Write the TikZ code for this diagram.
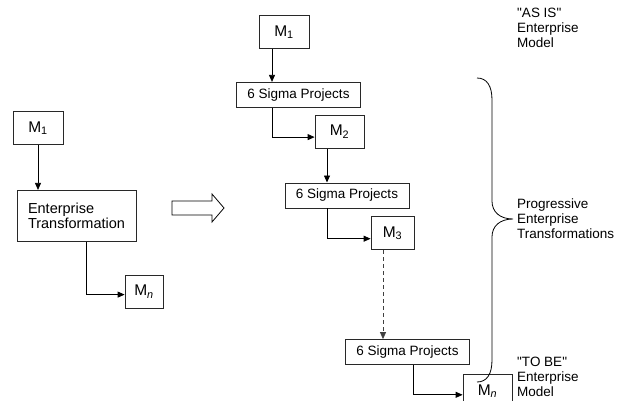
\documentclass[tikz,border=0pt]{standalone}
\usepackage{fontspec}
\setmainfont{Liberation Sans}[Ligatures=TeXOff]
\usetikzlibrary{positioning,arrows.meta}
\definecolor{BoxLine}{RGB}{40,40,40}
\tikzset{
  flow/.style={-{Triangle[length=7pt,width=6pt]},line width=0.8pt,draw=black},
  dashflow/.style={flow,dash pattern=on 4pt off 3pt,draw=black!75},
  mbox/.style={draw=BoxLine,line width=0.8pt,minimum height=33pt,inner sep=2pt,
    font=\fontsize{15.5}{17}\selectfont},
  sigmabox/.style={draw=BoxLine,line width=0.8pt,minimum width=124pt,
    minimum height=25pt,inner sep=2pt},
  etbox/.style={draw=BoxLine,line width=0.8pt,minimum width=119pt,
    minimum height=51pt,align=left,inner sep=2pt,font=\fontsize{14.5}{15}\selectfont},
  sidetext/.style={anchor=west,align=left,inner sep=0pt}
}

\begin{document}
\begin{tikzpicture}[x=1pt,y=-1pt,font=\fontsize{13.5}{15}\selectfont]
  \fill[white] (0,0) rectangle (622,400);
  \useasboundingbox (0,0) rectangle (622,400);
  \node[mbox,minimum width=50pt] (lM1) at (38,128) {M\textsubscript{1}};
  \node[etbox,below=45pt of lM1,xshift=38.5pt] (lET) {Enterprise\\Transformation};
  \node[mbox,minimum width=38pt,below=33pt of lET,xshift=67.5pt] (lMn) {M\textsubscript{\itshape n}};
  \draw[flow] (lM1) -- (lM1 |- lET.north);
  \draw[flow] ([xshift=9.5pt]lET.south) |- ([yshift=-3pt]lMn.west);
  \draw[line width=0.8pt] (172,201) -- (212,201) -- (212,194) -- (224,208)
    -- (212,222) -- (212,215) -- (172,215) -- cycle;
  \node[mbox,minimum width=50pt] (rM1) at (284,32) {M\textsubscript{1}};
  \node[sigmabox,below=33pt of rM1,xshift=14.5pt] (sp1) {6 Sigma Projects};
  \node[mbox,minimum width=49pt,below=7pt of sp1,xshift=41pt] (rM2) {M\textsubscript{2}};
  \node[sigmabox,below=34pt of rM2,xshift=7.5pt] (sp2) {6 Sigma Projects};
  \node[mbox,minimum width=43pt,below=8pt of sp2,xshift=45.5pt] (rM3) {M\textsubscript{3}};
  \node[sigmabox,below=89pt of rM3,xshift=15pt] (sp3) {6 Sigma Projects};
  \node[mbox,minimum width=49pt,below=9pt of sp3,xshift=80pt] (rMn) {M\textsubscript{\itshape n}};
  \draw[flow] ([xshift=-12pt]rM1.south) -- ([xshift=-12pt]rM1.south |- sp1.north);
  \draw[flow] ([xshift=-26.5pt]sp1.south) |- ([yshift=-5.5pt]rM2.west);
  \draw[flow] ([xshift=-12.5pt]rM2.south) -- ([xshift=-12.5pt]rM2.south |- sp2.north);
  \draw[flow] ([xshift=-20pt]sp2.south) |- ([yshift=-5.5pt]rM3.west);
  \draw[dashflow] ([xshift=-9.5pt]rM3.south) -- ([xshift=-9.5pt]rM3.south |- sp3.north);
  \draw[flow] ([xshift=5.5pt]sp3.south) |- ([yshift=-4pt]rMn.west);
  \draw[line width=0.8pt] (477,78) .. controls (487,78) and (492,86) .. (492,100)
    -- (492,201) .. controls (492,212) and (500,219) .. (513,219)
    .. controls (500,219) and (492,226) .. (492,237)
    -- (492,360) .. controls (492,374) and (487,382) .. (477,382);
  \node[sidetext] (asis) at (517,28) {"AS IS"\\Enterprise\\Model};
  \node[sidetext] (prog) at (517,219) {Progressive\\Enterprise\\Transformations};
  \node[sidetext] (tobe) at (517,377) {"TO BE"\\Enterprise\\Model};
\end{tikzpicture}
\end{document}
